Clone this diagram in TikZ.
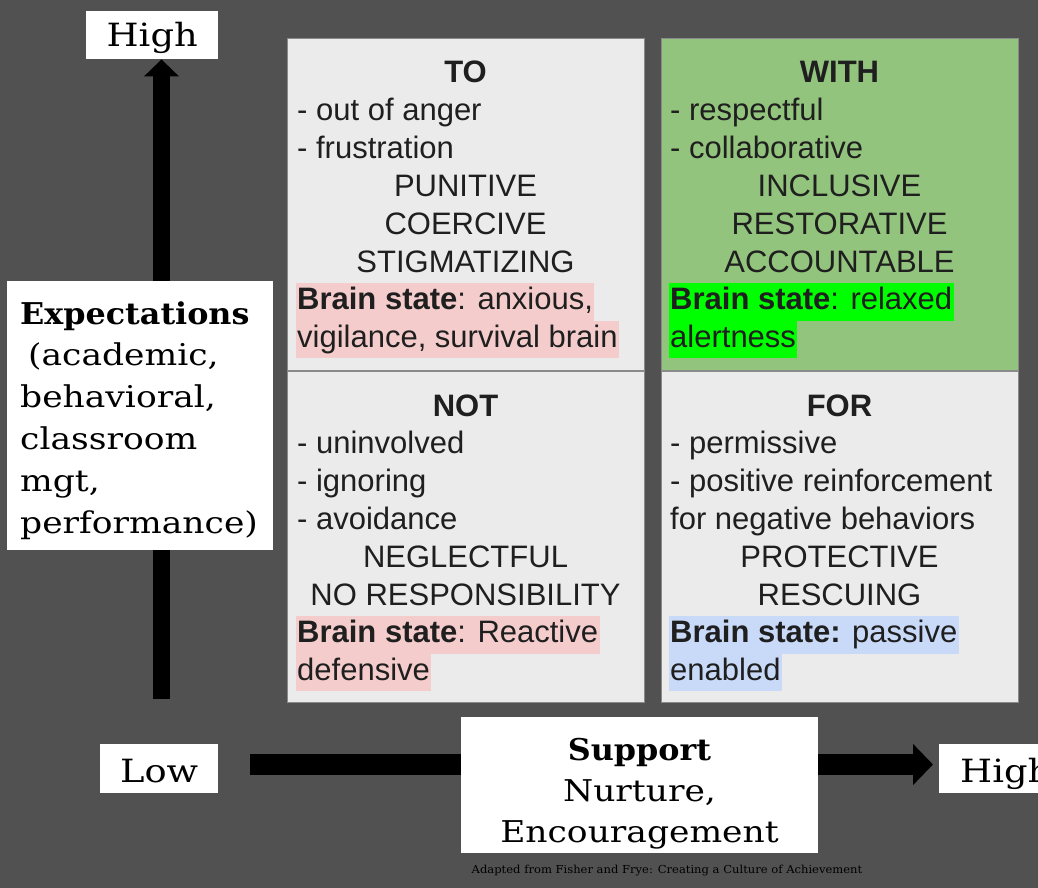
\documentclass[tikz,border=0pt]{standalone}
\usepackage{fontspec}
\usetikzlibrary{arrows.meta}
\setmainfont{Liberation Sans}
\newfontfamily\sansq{Liberation Sans}
\newfontfamily\serq[FakeStretch=1.15]{DejaVu Serif}
\newfontfamily\serqb[FakeStretch=1.06]{DejaVu Serif}
\newfontfamily\serqf[FakeStretch=1.05]{DejaVu Serif}
\definecolor{bg}{HTML}{515151}
\definecolor{qgray}{HTML}{EBEBEB}
\definecolor{qgreen}{HTML}{93C47D}
\definecolor{qline}{HTML}{8A8A8A}
\definecolor{hlpink}{HTML}{F4CCCC}
\definecolor{hlgreen}{HTML}{00FF00}
\definecolor{hlblue}{HTML}{C9DAF8}
\newcommand\qtxt{\sansq\fontsize{31}{37.8}\selectfont}
\newcommand\stxt{\serq\fontsize{30}{41.8}\selectfont}
\newcommand\stxtb{\serqb\fontsize{30}{41.8}\selectfont\bfseries}
\newcommand\atxt{\serq\fontsize{32}{40}\selectfont}
\begin{document}
\begin{tikzpicture}[x=1pt,y=-1pt,
  quad/.style={draw=qline, line width=1.2pt, minimum width=357pt, minimum height=332pt, anchor=north west, inner sep=0pt},
  qt/.style={inner sep=0pt, font=\qtxt, text=black!88},
  qc/.style={qt, anchor=base},
  qcb/.style={qt, anchor=base, font=\qtxt\bfseries},
  ql/.style={qt, anchor=base west},
  hl/.style={ql, inner xsep=1.5pt, text height=27pt, text depth=10.8pt},
  wbox/.style={fill=white, inner sep=0pt, anchor=north west},
  st/.style={inner sep=0pt, font=\stxt, text=black},
  stc/.style={st, anchor=base},
  stl/.style={st, anchor=base west},
  ax/.style={inner sep=0pt, font=\atxt, text=black}]
\fill[bg] (0,0) rectangle (1038,888);
\clip (0,0) rectangle (1038,888);
% axis label boxes
\node[wbox, minimum width=132pt, minimum height=48pt] (hi) at (86,11) {};
\node[wbox, minimum width=118pt, minimum height=49pt] (low) at (100,744) {};
\node[wbox, minimum width=120pt, minimum height=49pt] (hr) at (939,744) {};
% arrows
\coordinate (vs) at (161.5,699);
\coordinate (hs) at (250,764.5);
\draw[line width=17pt, -{Triangle[width=34pt,length=17pt]}] (vs) -- (vs |- hi.south);
\draw[line width=21pt, -{Triangle[width=40pt,length=20pt]}, shorten >=6pt] (hs) -- (hs -| hr.west);
% quadrants
\node[quad, fill=qgray] (to) at (287,38) {};
\node[quad, fill=qgreen] (with) at (661,38) {};
\node[quad, fill=qgray, minimum height=331pt] (not) at (287,371) {};
\node[quad, fill=qgray, minimum height=331pt] (for) at (661,371) {};
% big white boxes
\node[wbox, minimum width=266pt, minimum height=269pt] (exp) at (7,281) {};
\node[wbox, minimum width=357pt, minimum height=136pt] (sup) at (461,717) {};
% TO
\node[qcb] (toT) at (465.5,83) {TO};
\node[ql] (to1) at (297,120.8) {- out of anger};
\node[ql] (to2) at (297,158.6) {- frustration};
\node[qc] (to3) at (465.5,196.4) {PUNITIVE};
\node[qc] (to4) at (465.5,234.2) {COERCIVE};
\node[qc] (to5) at (465.5,272) {STIGMATIZING};
\node[hl, fill=hlpink] (to6) at (295.5,309.8) {\textbf{Brain state}: anxious,};
\node[hl, fill=hlpink] (to7) at (295.5,347.6) {vigilance, survival brain};
% WITH
\node[qcb] (wiT) at (839.5,83) {WITH};
\node[ql] (wi1) at (670,120.8) {- respectful};
\node[ql] (wi2) at (670,158.6) {- collaborative};
\node[qc] (wi3) at (839.5,196.4) {INCLUSIVE};
\node[qc] (wi4) at (839.5,234.2) {RESTORATIVE};
\node[qc] (wi5) at (839.5,272) {ACCOUNTABLE};
\node[hl, fill=hlgreen] (wi6) at (668.5,309.8) {\textbf{Brain state}: relaxed};
\node[hl, fill=hlgreen] (wi7) at (668.5,347.6) {alertness};
% NOT
\node[qcb] (noT) at (465.5,416) {NOT};
\node[ql] (no1) at (297,453.8) {- uninvolved};
\node[ql] (no2) at (297,491.6) {- ignoring};
\node[ql] (no3) at (297,529.4) {- avoidance};
\node[qc] (no4) at (465.5,567.2) {NEGLECTFUL};
\node[qc] (no5) at (465.5,605) {NO RESPONSIBILITY};
\node[hl, fill=hlpink] (no6) at (295.5,642.8) {\textbf{Brain state}: Reactive};
\node[hl, fill=hlpink] (no7) at (295.5,680.6) {defensive};
% FOR
\node[qcb] (foT) at (839.5,416) {FOR};
\node[ql] (fo1) at (670,453.8) {- permissive};
\node[ql] (fo2) at (670,491.6) {- positive reinforcement};
\node[ql] (fo3) at (670,529.4) {for negative behaviors};
\node[qc] (fo4) at (839.5,567.2) {PROTECTIVE};
\node[qc] (fo5) at (839.5,605) {RESCUING};
\node[hl, fill=hlblue] (fo6) at (668.5,642.8) {\textbf{Brain state:} passive};
\node[hl, fill=hlblue] (fo7) at (668.5,680.6) {enabled};
% Expectations
\node[stl, font=\stxtb] (e1) at (20,324) {Expectations};
\node[stl] (e2) at (28,365.8) {(academic,};
\node[stl] (e3) at (20,407.6) {behavioral,};
\node[stl] (e4) at (20,449.4) {classroom};
\node[stl] (e5) at (20,491.2) {mgt,};
\node[stl] (e6) at (20,533) {performance)};
% axis texts
\node[ax, anchor=base] (hit) at (hi.center |- 0,47) {High};
\node[ax, anchor=base] (lowt) at (low.center |- 0,782) {Low};
\node[ax, anchor=base west] (hrt) at (960,782) {High};
\node[stc, font=\stxtb] (s1) at (639.5,760) {Support};
\node[stc] (s2) at (639.5,801) {Nurture,};
\node[stc] (s3) at (639.5,842) {Encouragement};
\node[inner sep=0pt, anchor=base, font=\serqf\fontsize{11}{13}\selectfont, text=black] (foot) at (667,873) {Adapted from Fisher and Frye: Creating a Culture of Achievement};
\end{tikzpicture}
\end{document}
